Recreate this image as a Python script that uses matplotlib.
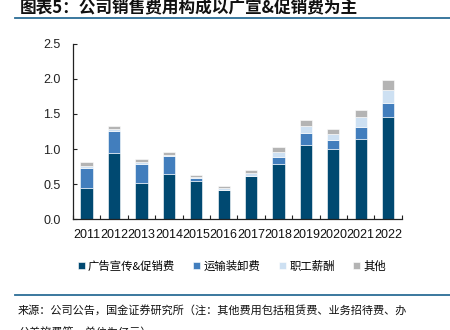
import matplotlib
matplotlib.use("Agg")
import matplotlib.pyplot as plt
from matplotlib.lines import Line2D
from matplotlib.ticker import FixedLocator
import numpy as np

years = ["2011", "2012", "2013", "2014", "2015", "2016", "2017", "2018",
         "2019", "2020", "2021", "2022"]
# 销售费用构成（亿元）
ads_promo = [0.45, 0.94, 0.52, 0.64, 0.55, 0.41, 0.61, 0.78, 1.06, 1.00, 1.14, 1.45]
transport = [0.28, 0.32, 0.26, 0.26, 0.03, 0.01, 0.01, 0.11, 0.17, 0.13, 0.18, 0.20]
salary = [0.03, 0.03, 0.03, 0.02, 0.02, 0.02, 0.04, 0.07, 0.10, 0.08, 0.14, 0.19]
others = [0.05, 0.04, 0.05, 0.04, 0.03, 0.03, 0.04, 0.07, 0.08, 0.08, 0.10, 0.14]
y_ticks = [0.0, 0.5, 1.0, 1.5, 2.0, 2.5]

series = [
    ("广告宣传&促销费", ads_promo, "#004971"),
    ("运输装卸费", transport, "#427EBD"),
    ("职工薪酬", salary, "#CDE0F2"),
    ("其他", others, "#B4B4B4"),
]

cjk = ["Noto Sans CJK SC", "DejaVu Sans"]
plt.rcParams["font.family"] = ["Liberation Sans", "DejaVu Sans"]

fig = plt.figure(figsize=(4.5, 3.3), dpi=100)
ax = fig.add_axes([0.162, 0.336, 0.731, 0.531])

x = np.arange(len(years))
bottom = np.zeros(len(years))
handles = []
for name, vals, color in series:
    vals = np.array(vals)
    b = ax.bar(x, vals, width=0.45, bottom=bottom, color=color,
               edgecolor="white", linewidth=0.4, label=name)
    handles.append(b)
    bottom += vals

ax.set_xlim(-0.5, len(years) - 0.5)
ax.set_yticks(y_ticks)
ax.set_yticklabels([f"{v:.1f}" for v in y_ticks])
ax.set_ylim(0, 2.5)
ax.set_xticks(x)
ax.set_xticklabels(years)
ax.xaxis.set_minor_locator(FixedLocator(np.arange(-0.5, len(years), 1.0)))

for s in ("top", "right"):
    ax.spines[s].set_visible(False)
for s in ("left", "bottom"):
    ax.spines[s].set_color("#222222")
    ax.spines[s].set_linewidth(0.9)

ax.tick_params(axis="y", direction="in", length=3, width=0.8, pad=9,
               labelsize=9, colors="#222222")
ax.tick_params(axis="x", which="major", length=0, pad=7, labelsize=9,
               colors="#111111")
ax.tick_params(axis="x", which="minor", direction="in", length=3, width=0.8,
               color="#222222")

leg = fig.legend(handles=handles, loc="center", bbox_to_anchor=(0.515, 0.194),
                 ncol=4, frameon=False, prop={"family": cjk, "size": 8.2},
                 handlelength=0.6, handleheight=0.6, handletextpad=0.3,
                 columnspacing=1.6)

# 标题与分隔线
fig.text(0.045, 0.976, "图表5：公司销售费用构成以广宣&促销费为主",
         family=cjk, fontsize=12, fontweight="bold", style="italic",
         ha="left", va="center", color="#111111")
fig.add_artist(Line2D([0.033, 1.0], [0.945, 0.945], color="#2B6D96",
                      linewidth=1.3, transform=fig.transFigure))
fig.add_artist(Line2D([0.033, 1.0], [0.106, 0.106], color="#2B6D96",
                      linewidth=1.3, transform=fig.transFigure))

fig.text(0.04, 0.058,
         "来源：公司公告，国金证券研究所（注：其他费用包括租赁费、业务招待费、办",
         family=cjk, fontsize=8.0, ha="left", va="center", color="#111111")
fig.text(0.04, -0.006, "公差旅费等，单位为亿元）",
         family=cjk, fontsize=8.0, ha="left", va="center", color="#111111")

fig.savefig("out.png", dpi=100)
